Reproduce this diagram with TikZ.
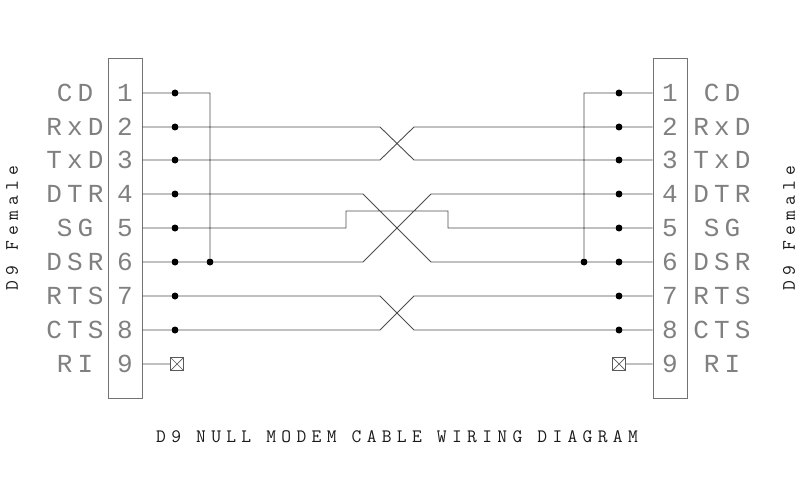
\documentclass[tikz,border=0pt]{standalone}
\usepackage{fontspec}
\newfontfamily\cadfont{Liberation Mono}[LetterSpace=20]
\newfontfamily\notefont{Latin Modern Mono}[LetterSpace=28]
\usetikzlibrary{positioning}
\tikzstyle{plug} = [rectangle,
                    draw=black!55,
                    line width=0.9pt,
                    minimum width=34pt,
                    minimum height=340pt,
                    inner sep=0pt]
\tikzstyle{pin} = [inner sep=0pt,
                   text=black!50,
                   font={\cadfont\fontsize{26}{26}\selectfont}]
\tikzstyle{note} = [inner sep=0pt,
                    text=black!90,
                    font={\notefont\fontsize{19}{19}\selectfont}]
\tikzstyle{dot} = [circle, fill=black, inner sep=0pt, minimum size=7pt]
\tikzstyle{nc} = [rectangle, draw=black!65, line width=0.7pt,
                  minimum size=13pt, inner sep=0pt,
                  path picture={\draw[black!65, line width=0.7pt]
                    (path picture bounding box.north west) -- (path picture bounding box.south east)
                    (path picture bounding box.south west) -- (path picture bounding box.north east);}]
\tikzstyle{wire} = [draw=black!70, line width=0.9pt]

\begin{document}
\begin{tikzpicture}[x=1pt, y=-1pt]
    \useasboundingbox (0,0) rectangle (800,500);
    \node (lbox) [plug] at (125,228) {};
    \node (rbox) [plug] at (670,228) {};
    % pin numbers
    \node (lp1) [pin] at (125,93) {1};
    \node (lp2) [pin] at (125,127) {2};
    \node (lp3) [pin] at (125,160) {3};
    \node (lp4) [pin] at (125,194) {4};
    \node (lp5) [pin] at (125,228) {5};
    \node (lp6) [pin] at (125,262) {6};
    \node (lp7) [pin] at (125,296) {7};
    \node (lp8) [pin] at (125,330) {8};
    \node (lp9) [pin] at (125,364) {9};
    \node (rp1) [pin] at (670,93) {1};
    \node (rp2) [pin] at (670,127) {2};
    \node (rp3) [pin] at (670,160) {3};
    \node (rp4) [pin] at (670,194) {4};
    \node (rp5) [pin] at (670,228) {5};
    \node (rp6) [pin] at (670,262) {6};
    \node (rp7) [pin] at (670,296) {7};
    \node (rp8) [pin] at (670,330) {8};
    \node (rp9) [pin] at (670,364) {9};
    % signal names
    \node (lcd) [pin] at (75,93) {CD};
    \node (lrxd) [pin] at (75,127) {RxD};
    \node (ltxd) [pin] at (75,160) {TxD};
    \node (ldtr) [pin] at (75,194) {DTR};
    \node (lsg) [pin] at (75,228) {SG};
    \node (ldsr) [pin] at (75,262) {DSR};
    \node (lrts) [pin] at (75,296) {RTS};
    \node (lcts) [pin] at (75,330) {CTS};
    \node (lri) [pin] at (75,364) {RI};
    \node (rcd) [pin] at (722,93) {CD};
    \node (rrxd) [pin] at (722,127) {RxD};
    \node (rtxd) [pin] at (722,160) {TxD};
    \node (rdtr) [pin] at (722,194) {DTR};
    \node (rsg) [pin] at (722,228) {SG};
    \node (rdsr) [pin] at (722,262) {DSR};
    \node (rrts) [pin] at (722,296) {RTS};
    \node (rcts) [pin] at (722,330) {CTS};
    \node (rri) [pin] at (722,364) {RI};
    % solder points
    \node (l1) [dot] at (175,93) {};
    \node (l2) [dot] at (175,127) {};
    \node (l3) [dot] at (175,160) {};
    \node (l4) [dot] at (175,194) {};
    \node (l5) [dot] at (175,228) {};
    \node (l6) [dot] at (175,262) {};
    \node (l7) [dot] at (175,296) {};
    \node (l8) [dot] at (175,330) {};
    \node (l9) [nc] at (177,364) {};
    \node (lj) [dot] at (210,262) {};
    \node (r1) [dot] at (619,93) {};
    \node (r2) [dot] at (619,127) {};
    \node (r3) [dot] at (619,160) {};
    \node (r4) [dot] at (619,194) {};
    \node (r5) [dot] at (619,228) {};
    \node (r6) [dot] at (619,262) {};
    \node (r7) [dot] at (619,296) {};
    \node (r8) [dot] at (619,330) {};
    \node (r9) [nc] at (619,364) {};
    \node (rj) [dot] at (584,262) {};
    % bends of the crossed pairs
    \coordinate (x2a) at (380,127);
    \coordinate (x2b) at (414,160);
    \coordinate (x3a) at (380,160);
    \coordinate (x3b) at (414,127);
    \coordinate (x4a) at (363,194);
    \coordinate (x4b) at (431,262);
    \coordinate (x6a) at (363,262);
    \coordinate (x6b) at (431,194);
    \coordinate (s5a) at (346,211);
    \coordinate (s5b) at (448,211);
    \coordinate (x7a) at (380,296);
    \coordinate (x7b) at (414,330);
    \coordinate (x8a) at (380,330);
    \coordinate (x8b) at (414,296);
    % wires
    \path[wire]
      (lbox.east |- l1) -- (l1) -| (lj)
      (rbox.west |- r1) -- (r1) -| (rj)
      (lbox.east |- l2) -- (l2) -- (x2a) -- (x2b) -- (r3) -- (rbox.west |- r3)
      (lbox.east |- l3) -- (l3) -- (x3a) -- (x3b) -- (r2) -- (rbox.west |- r2)
      (lbox.east |- l4) -- (l4) -- (x4a) -- (x4b) -- (rj) -- (r6) -- (rbox.west |- r6)
      (lbox.east |- l6) -- (l6) -- (lj) -- (x6a) -- (x6b) -- (r4) -- (rbox.west |- r4)
      (lbox.east |- l5) -- (l5) -| (s5a) -- (s5b) |- (r5) -- (rbox.west |- r5)
      (lbox.east |- l7) -- (l7) -- (x7a) -- (x7b) -- (r8) -- (rbox.west |- r8)
      (lbox.east |- l8) -- (l8) -- (x8a) -- (x8b) -- (r7) -- (rbox.west |- r7)
      (lbox.east |- l9) -- (l9)
      (rbox.west |- r9) -- (r9);
    % titles
    \node (lside) [note, rotate=90] at (12,228) {D9 Female};
    \node (rside) [note, rotate=90] at (789,228) {D9 Female};
    \node (title) [note] at (397,437) {D9 NULL MODEM CABLE WIRING DIAGRAM};
\end{tikzpicture}
\end{document}
